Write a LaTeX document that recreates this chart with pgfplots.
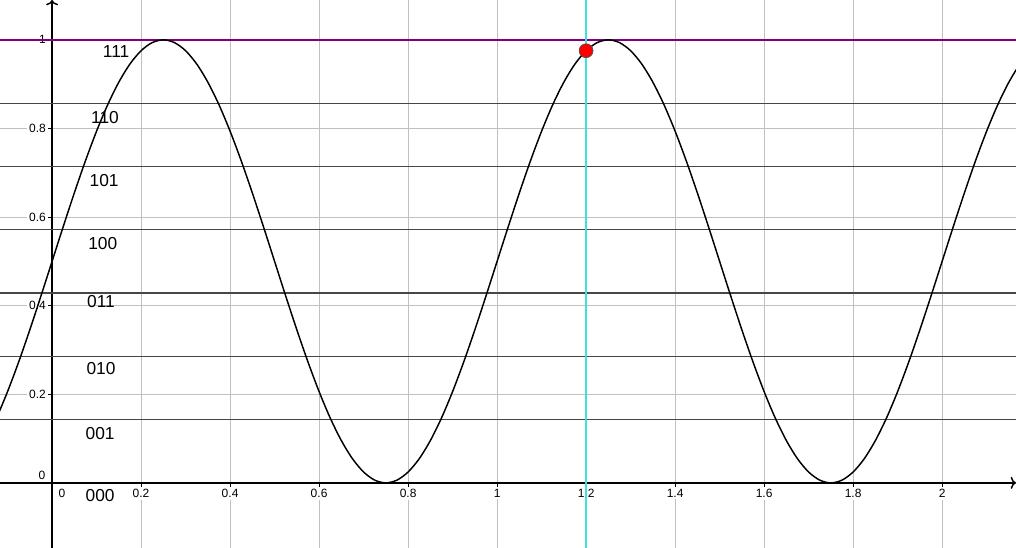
\documentclass[border=0pt]{standalone}
\usepackage{fontspec}
\setmainfont{Liberation Sans}
\usepackage{pgfplots}
\usepackage{pgfplotstable}
\pgfplotsset{compat=1.18}
\usetikzlibrary{arrows.meta}
\definecolor{gridgray}{RGB}{192,192,192}
\definecolor{levgray}{RGB}{70,70,70}
\definecolor{ggpurple}{RGB}{128,0,128}
\definecolor{ggcyan}{RGB}{64,224,224}
\pgfplotstableread{
x y
-0.150 0.0955
-0.125 0.1464
-0.100 0.2061
-0.075 0.2730
-0.050 0.3455
-0.025 0.4218
0.000 0.5000
0.025 0.5782
0.050 0.6545
0.075 0.7270
0.100 0.7939
0.125 0.8536
0.150 0.9045
0.175 0.9455
0.200 0.9755
0.225 0.9938
0.250 1.0000
0.275 0.9938
0.300 0.9755
0.325 0.9455
0.350 0.9045
0.375 0.8536
0.400 0.7939
0.425 0.7270
0.450 0.6545
0.475 0.5782
0.500 0.5000
0.525 0.4218
0.550 0.3455
0.575 0.2730
0.600 0.2061
0.625 0.1464
0.650 0.0955
0.675 0.0545
0.700 0.0245
0.725 0.0062
0.750 0.0000
0.775 0.0062
0.800 0.0245
0.825 0.0545
0.850 0.0955
0.875 0.1464
0.900 0.2061
0.925 0.2730
0.950 0.3455
0.975 0.4218
1.000 0.5000
1.025 0.5782
1.050 0.6545
1.075 0.7270
1.100 0.7939
1.125 0.8536
1.150 0.9045
1.175 0.9455
1.200 0.9755
1.225 0.9938
1.250 1.0000
1.275 0.9938
1.300 0.9755
1.325 0.9455
1.350 0.9045
1.375 0.8536
1.400 0.7939
1.425 0.7270
1.450 0.6545
1.475 0.5782
1.500 0.5000
1.525 0.4218
1.550 0.3455
1.575 0.2730
1.600 0.2061
1.625 0.1464
1.650 0.0955
1.675 0.0545
1.700 0.0245
1.725 0.0062
1.750 0.0000
1.775 0.0062
1.800 0.0245
1.825 0.0545
1.850 0.0955
1.875 0.1464
1.900 0.2061
1.925 0.2730
1.950 0.3455
1.975 0.4218
2.000 0.5000
2.025 0.5782
2.050 0.6545
2.075 0.7270
2.100 0.7939
2.125 0.8536
2.150 0.9045
2.175 0.9455
2.200 0.9755
}\curvedata
\begin{document}
\begin{tikzpicture}
\begin{axis}[
  scale only axis, width=762pt, height=411pt,
  xmin=-0.117, xmax=2.166, ymin=-0.147, ymax=1.09,
  axis lines=middle,
  axis line style={line width=1.1pt, -{To[length=4pt,width=9pt]}},
  xtick={0.2,0.4,0.6,0.8,1,1.2,1.4,1.6,1.8,2},
  ytick={0.2,0.4,0.6,0.8,1},
  grid=major, major grid style={color=gridgray, line width=0.75pt},
  tick align=outside, major tick length=3pt,
  tick style={black, line width=0.75pt},
  ticklabel style={font=\fontsize{9}{10}\selectfont, fill=white, inner sep=1.5pt},
  /pgf/number format/assume math mode=true,
  clip=true,
]
\addplot[levgray, line width=0.9pt] coordinates {(-0.2,0.142857) (2.3,0.142857)};
\addplot[levgray, line width=0.9pt] coordinates {(-0.2,0.285714) (2.3,0.285714)};
\addplot[levgray, line width=0.9pt] coordinates {(-0.2,0.428571) (2.3,0.428571)};
\addplot[levgray, line width=0.9pt] coordinates {(-0.2,0.571429) (2.3,0.571429)};
\addplot[levgray, line width=0.9pt] coordinates {(-0.2,0.714286) (2.3,0.714286)};
\addplot[levgray, line width=0.9pt] coordinates {(-0.2,0.857143) (2.3,0.857143)};
\addplot[ggpurple, line width=1.5pt] coordinates {(-0.2,1) (2.3,1)};
\addplot[ggcyan, line width=1.2pt] coordinates {(1.2,-0.2) (1.2,1.2)};
\addplot[black, line width=1.1pt, smooth] table {\curvedata};
\addplot[only marks, mark=*, mark size=5.2pt, mark options={fill=red, draw=black!70, line width=0.5pt}] coordinates {(1.2,0.9755)};
\begin{scope}[every node/.style={font=\fontsize{13}{14}\selectfont, inner sep=0pt}]
\node at (axis cs:0.144,0.973) {111};
\node at (axis cs:0.119,0.824) {110};
\node at (axis cs:0.117,0.682) {101};
\node at (axis cs:0.114,0.540) {100};
\node at (axis cs:0.110,0.409) {011};
\node at (axis cs:0.110,0.257) {010};
\node at (axis cs:0.108,0.111) {001};
\node at (axis cs:0.108,-0.029) {000};
\end{scope}
\node[font=\fontsize{9}{10}\selectfont, inner sep=0pt] at (axis cs:-0.0225,0.018) {0};
\node[font=\fontsize{9}{10}\selectfont, inner sep=0pt] at (axis cs:0.0225,-0.0226) {0};
\end{axis}
\pgfresetboundingbox
\path (0,0) rectangle (762pt,411pt);
\end{tikzpicture}
\end{document}
